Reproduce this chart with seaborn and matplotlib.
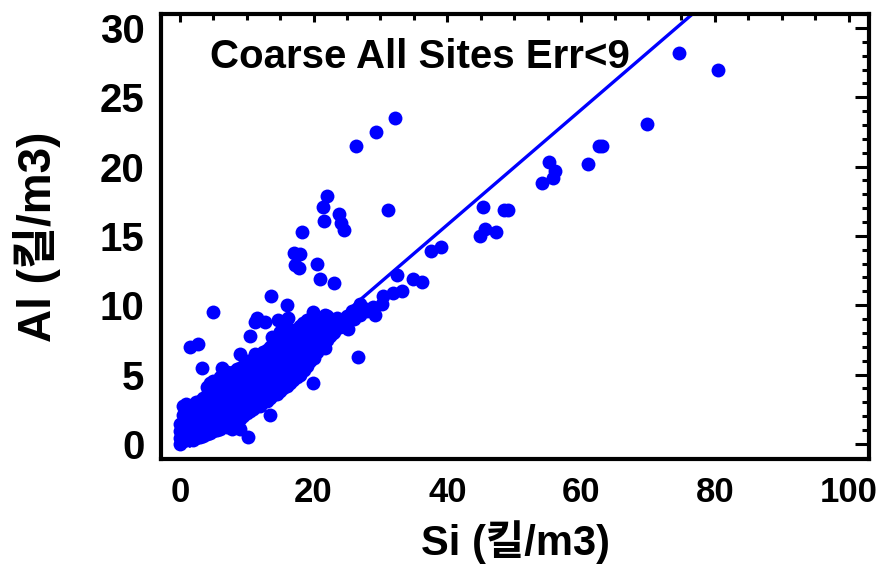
import matplotlib
matplotlib.use("Agg")
import matplotlib.pyplot as plt
import seaborn as sns
import pandas as pd
from matplotlib.ticker import MultipleLocator

# scattered points away from the dense band (Si, Al)
outlier_si = [74.7, 80.4, 69.9, 62.7, 63.1, 61.1, 55.2, 56.1, 55.8, 54.2,
              45.4, 48.4, 49.1, 45.7, 47.3, 44.9, 39.0, 37.6, 36.2, 34.9,
              32.5, 33.2, 31.9, 30.4, 30.2, 28.9, 29.2, 27.8, 26.9, 25.7,
              25.2, 23.5, 22.9, 21.7, 21.4, 21.7, 32.2, 29.4, 26.3, 22.0,
              21.4, 21.6, 23.8, 24.1, 24.5, 31.1, 18.3, 17.1, 18.0, 17.2,
              17.8, 20.5, 20.9, 23.1, 13.6, 16.0, 16.2, 14.7, 12.7, 11.5,
              11.2, 13.8, 15.0, 19.9, 18.4, 19.5, 19.9, 26.6, 4.9, 1.5,
              2.7, 10.5, 9.0, 11.2, 3.3, 6.3, 10.2, 9.0, 7.8, 13.5]
outlier_al = [28.2, 27.0, 23.1, 21.5, 21.5, 20.2, 20.3, 19.7, 19.2, 18.8,
              17.1, 16.9, 16.9, 15.5, 15.3, 15.0, 14.2, 13.9, 11.7, 11.9,
              12.2, 11.0, 10.9, 10.7, 10.1, 9.9, 9.3, 9.7, 10.1, 9.6,
              8.3, 9.1, 8.0, 9.3, 8.4, 6.9, 23.5, 22.5, 21.5, 17.9,
              17.1, 16.1, 16.6, 15.9, 15.4, 16.9, 15.3, 13.8, 13.7, 12.9,
              12.7, 13.0, 11.9, 11.6, 10.7, 10.0, 9.1, 8.9, 8.8, 9.1,
              8.8, 7.7, 8.1, 9.5, 8.7, 8.0, 4.4, 6.3, 9.5, 7.0,
              7.2, 7.8, 6.5, 6.5, 5.5, 5.5, 0.5, 1.1, 1.1, 2.1]

# dense band near the origin: Si column -> Al values read at that column
band_si = [0.0, 0.5, 1.0, 1.5, 2.0, 2.5, 3.0, 3.5, 4.0, 4.5, 5.0, 5.5, 6.0,
           6.5, 7.0, 7.5, 8.0, 8.5, 9.0, 9.5, 10.0, 10.5, 11.0, 11.5, 12.0,
           12.5, 13.0, 13.5, 14.0, 14.5, 15.0, 15.5, 16.0, 16.5, 17.0, 17.5,
           18.0, 18.5, 19.0, 19.5, 20.0, 20.5, 21.0, 21.5, 22.0, 22.5, 23.0,
           24.0, 25.0, 26.0, 27.0, 28.0]
band_al = [
    [0.0, 0.4, 0.9, 1.4], [0.2, 0.8, 1.5, 2.1, 2.7], [0.3, 0.9, 1.5, 2.2, 2.9],
    [0.4, 1.0, 1.6, 2.3], [0.3, 0.9, 1.5, 2.1, 2.7], [0.4, 1.0, 1.7, 2.4, 3.0],
    [0.5, 1.1, 1.8, 2.5, 3.1], [0.6, 1.2, 1.9, 2.6, 3.3],
    [0.7, 1.3, 2.0, 2.7, 3.5, 4.1], [0.8, 1.5, 2.2, 2.9, 3.6, 4.4],
    [0.9, 1.6, 2.3, 3.0, 3.8, 4.5], [1.0, 1.7, 2.4, 3.2, 3.9],
    [1.1, 1.8, 2.5, 3.3, 4.1, 4.8], [1.3, 2.0, 2.7, 3.4, 4.2],
    [1.2, 1.9, 2.6, 3.3, 4.0, 4.8, 5.2], [1.5, 2.2, 2.9, 3.6, 4.4, 5.0],
    [1.5, 2.2, 3.0, 3.7, 4.5, 5.2], [1.7, 2.4, 3.1, 3.9, 4.6, 5.4],
    [1.8, 2.6, 3.3, 4.0, 4.8, 5.5], [2.0, 2.7, 3.4, 4.2, 4.9, 5.6],
    [2.2, 2.9, 3.6, 4.3, 5.0, 5.7, 6.0], [2.4, 3.1, 3.8, 4.5, 5.2, 5.9],
    [2.5, 3.2, 3.9, 4.6, 5.4, 6.1], [2.7, 3.4, 4.1, 4.8, 5.5, 6.2],
    [2.7, 3.5, 4.2, 5.0, 5.7, 6.4], [3.0, 3.7, 4.4, 5.1, 5.8, 6.6],
    [3.1, 3.8, 4.5, 5.3, 6.0, 6.8], [3.3, 4.0, 4.7, 5.5, 6.2, 7.0],
    [3.5, 4.2, 4.9, 5.6, 6.3, 7.1], [3.6, 4.4, 5.1, 5.8, 6.5, 7.3],
    [3.8, 4.5, 5.2, 6.0, 6.7, 7.4, 8.1], [4.0, 4.7, 5.4, 6.1, 6.9, 7.6],
    [4.2, 4.9, 5.6, 6.3, 7.0, 7.8, 8.4], [4.4, 5.1, 5.8, 6.5, 7.2, 7.9],
    [4.6, 5.3, 6.0, 6.7, 7.4, 8.1], [4.8, 5.5, 6.2, 6.9, 7.6, 8.3],
    [5.0, 5.7, 6.4, 7.1, 7.8, 8.5], [5.3, 6.0, 6.7, 7.4, 8.1],
    [5.6, 6.3, 7.0, 7.7, 8.3, 8.9], [6.0, 6.7, 7.3, 7.9, 8.6],
    [6.2, 6.9, 7.5, 8.1, 8.8], [6.6, 7.3, 7.9, 8.5], [6.9, 7.5, 8.1, 8.7],
    [7.2, 7.8, 8.4, 9.0], [7.5, 8.1, 8.7, 9.2], [7.8, 8.4, 9.0], [8.1, 8.7],
    [8.4, 8.9], [8.7, 9.2], [9.0], [9.3], [9.6],
]

# fitted line
fit_slope = 0.415
fit_intercept = -0.8
fit_si = [1.5, 80.0]

rows = [(s, a) for s, col in zip(band_si, band_al) for a in col]
rows += list(zip(outlier_si, outlier_al))
df = pd.DataFrame(rows, columns=["Si", "Al"])
line_df = pd.DataFrame({"Si": fit_si})
line_df["Al"] = fit_slope * line_df["Si"] + fit_intercept

sns.set_style("white")
plt.rcParams['font.family'] = ['Liberation Sans', 'Noto Sans CJK KR']
plt.rcParams['font.weight'] = 'bold'
plt.rcParams['text.color'] = 'black'
plt.rcParams['axes.labelcolor'] = 'black'
plt.rcParams['xtick.color'] = 'black'
plt.rcParams['ytick.color'] = 'black'

fig = plt.figure(figsize=(8.8, 5.64), dpi=100)
ax = fig.add_axes([0.183, 0.186, 0.805, 0.789])

sns.lineplot(data=line_df, x="Si", y="Al", color="#0000ff", linewidth=2.4, ax=ax, zorder=1)
sns.scatterplot(data=df, x="Si", y="Al", color="#0000ff", s=100, linewidth=0, ax=ax, zorder=2)

ax.set_xlim(-2.8, 103.1)
ax.set_ylim(-1.1, 31.0)
ax.xaxis.set_major_locator(MultipleLocator(20))
ax.xaxis.set_minor_locator(MultipleLocator(5))
ax.yaxis.set_major_locator(MultipleLocator(5))
ax.yaxis.set_minor_locator(MultipleLocator(1))

for sp in ax.spines.values():
    sp.set_visible(True)
    sp.set_color('black')
    sp.set_linewidth(3)

ax.tick_params(axis='both', which='both', direction='in', top=True, right=True,
               color='black', labelcolor='black', width=2.2)
ax.tick_params(axis='x', which='major', length=6, labelsize=25, pad=12)
ax.tick_params(axis='x', which='minor', length=4)
ax.tick_params(axis='y', which='major', length=10, labelsize=29, pad=12)
ax.tick_params(axis='y', which='minor', length=5)
for lbl in ax.get_xticklabels() + ax.get_yticklabels():
    lbl.set_fontweight('bold')

ax.set_xlabel("Si (킬/m3)", fontsize=30, fontweight='bold', labelpad=8)
ax.set_ylabel("Al (킬/m3)", fontsize=33, fontweight='bold', labelpad=28)

ax.text(0.069, 0.904, "Coarse All Sites Err<9", transform=ax.transAxes,
        fontsize=29, fontweight='bold', va='center', ha='left')

fig.savefig("out.png", dpi=100)
